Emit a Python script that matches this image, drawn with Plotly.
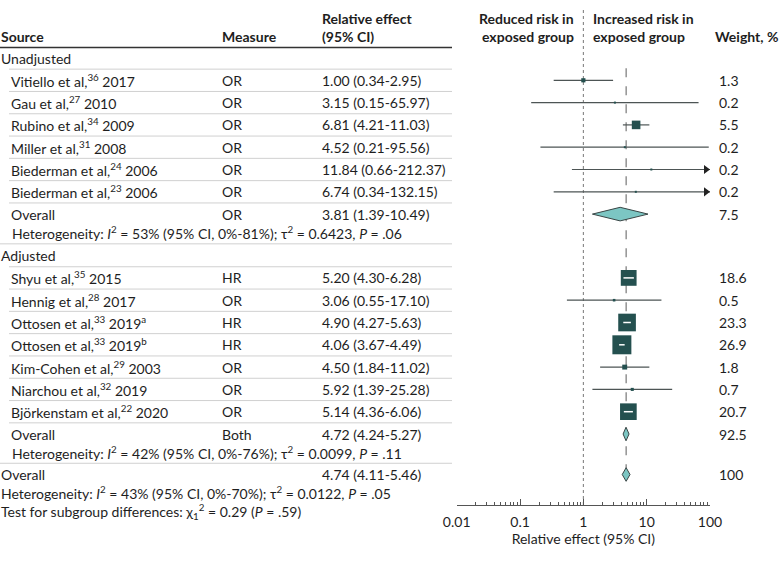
import math
import plotly.graph_objects as go

# ---- data -------------------------------------------------------------
unadj_authors = ["Vitiello et al", "Gau et al", "Rubino et al", "Miller et al",
                 "Biederman et al", "Biederman et al"]
unadj_refs = ["36", "27", "34", "31", "24", "23"]
unadj_years = ["2017", "2010", "2009", "2008", "2006", "2006"]
unadj_measure = ["OR", "OR", "OR", "OR", "OR", "OR"]
unadj_est = [1.00, 3.15, 6.81, 4.52, 11.84, 6.74]
unadj_lo = [0.34, 0.15, 4.21, 0.21, 0.66, 0.34]
unadj_hi = [2.95, 65.97, 11.03, 95.56, 212.37, 132.15]
unadj_weight = [1.3, 0.2, 5.5, 0.2, 0.2, 0.2]

adj_authors = ["Shyu et al", "Hennig et al", "Ottosen et al", "Ottosen et al",
               "Kim-Cohen et al", "Niarchou et al", "Björkenstam et al"]
adj_refs = ["35", "28", "33", "33", "29", "32", "22"]
adj_years = ["2015", "2017", "2019<sup>a</sup>", "2019<sup>b</sup>", "2003", "2019", "2020"]
adj_measure = ["HR", "OR", "HR", "HR", "OR", "OR", "OR"]
adj_est = [5.20, 3.06, 4.90, 4.06, 4.50, 5.92, 5.14]
adj_lo = [4.30, 0.55, 4.27, 3.67, 1.84, 1.39, 4.36]
adj_hi = [6.28, 17.10, 5.63, 4.49, 11.02, 25.28, 6.06]
adj_weight = [18.6, 0.5, 23.3, 26.9, 1.8, 0.7, 20.7]

# pooled: measure, est, lo, hi, weight, I2, I2 lo, I2 hi, tau2, P
unadj_pool = ["OR", 3.81, 1.39, 10.49, 7.5, 53, 0, 81, "0.6423", ".06"]
adj_pool = ["Both", 4.72, 4.24, 5.27, 92.5, 42, 0, 76, "0.0099", ".11"]
total_pool = ["", 4.74, 4.11, 5.46, 100, 43, 0, 70, "0.0122", ".05"]
subgroup_chi2 = "0.29"
subgroup_p = ".59"

tick_vals = [0.01, 0.1, 1, 10, 100]
tick_text = ["0.01", "0.1", "1", "10", "100"]

# ---- layout helpers ---------------------------------------------------
W, H = 780, 562
X0, X1 = 456.7, 710.0           # pixel extent of the log axis
PX_DEC = (X1 - X0) / 4
ROW = 22.3
FONT = "Lato"
FS = 14
TXT = "#1e1e1e"
SQ = "#24504f"
DIA = "#7cc6c3"
CI = "#4d5555"

COL_SRC, COL_STUDY, COL_MEAS, COL_EFF, COL_W = 0, 10, 221, 321, 718


def px(x):
    return x / W


def fmt_eff(e, l, h):
    return f"{e:.2f} ({l:.2f}-{h:.2f})"


def het_text(p):
    return (f"Heterogeneity: <i>I</i><sup>2</sup> = {p[5]}% (95% CI, {p[6]}%-{p[7]}%); "
            f"τ<sup>2</sup> = {p[8]}, <i>P</i> = {p[9]}")


# row positions (in pixel units from the top)
y_unadj_head = 58
y_unadj = [y_unadj_head + ROW * (i + 1) for i in range(len(unadj_est))]
y_unadj_pool = y_unadj[-1] + ROW
y_unadj_het = y_unadj_pool + 18
y_adj_head = y_unadj_het + 23.5
y_adj = [y_adj_head + ROW * (i + 1) for i in range(len(adj_est))]
y_adj_pool = y_adj[-1] + ROW
y_adj_het = y_adj_pool + 18
y_total = y_adj_het + 22.5
y_total_het = y_total + 18
y_test = y_total_het + 18.5

fig = go.Figure()
ann = []
shapes = []


def text(x, y, s, size=FS, anchor="left", bold=False):
    if bold:
        s = f"<b>{s}</b>"
    ann.append(dict(x=px(x), y=y, xref="paper", yref="y", text=s, showarrow=False,
                    xanchor=anchor, yanchor="middle", borderpad=0,
                    font=dict(family=FONT, size=size, color=TXT)))


def hline(y, x_start, color="#d0d0d0", width=1):
    shapes.append(dict(type="line", xref="paper", yref="y", x0=px(x_start), x1=px(452),
                       y0=y, y1=y, line=dict(color=color, width=width)))


# header
text(COL_SRC, 36, "Source", bold=True)
text(COL_MEAS, 36, "Measure", bold=True)
text(COL_EFF, 18, "Relative effect", bold=True)
text(COL_EFF, 36, "(95% CI)", bold=True)
text(575, 18, "Reduced risk in", bold=True, anchor="right")
text(575, 36, "exposed group", bold=True, anchor="right")
text(592, 18, "Increased risk in", bold=True)
text(592, 36, "exposed group", bold=True)
text(779, 36, "Weight, %", bold=True, anchor="right")
hline(47.5, 0, color="#333333", width=1.5)

# reference lines
fig.add_trace(go.Scatter(x=[1, 1], y=[10, 505], mode="lines",
                         line=dict(color="#777777", width=1, dash="dot"),
                         hoverinfo="skip"))
fig.add_trace(go.Scatter(x=[total_pool[1], total_pool[1]], y=[y_unadj[0] - 12, y_total],
                         mode="lines", line=dict(color="#777777", width=1.2, dash="dash"),
                         hoverinfo="skip"))


def add_pool(pool, y_pool, y_het, x_lab, x_het):
    text(x_lab, y_pool, "Overall")
    if pool[0]:
        text(COL_MEAS, y_pool, pool[0])
    text(COL_EFF, y_pool, fmt_eff(pool[1], pool[2], pool[3]))
    text(COL_W, y_pool, f"{pool[4]:g}")
    text(x_het, y_het, het_text(pool))
    hh = 6.8
    fig.add_trace(go.Scatter(x=[pool[2], pool[1], pool[3], pool[1], pool[2]],
                             y=[y_pool, y_pool - hh, y_pool, y_pool + hh, y_pool],
                             mode="lines", fill="toself", fillcolor=DIA,
                             line=dict(color="#3a4545", width=1), hoverinfo="skip"))


def add_group(head, y_head, authors, refs, years, meas, est, lo, hi, wts, ys,
              pool, y_pool, y_het, y_next):
    text(COL_SRC, y_head, head)
    hline((y_head + ys[0]) / 2, 9)
    for i in range(len(est)):
        text(COL_STUDY, ys[i], f"{authors[i]},<sup>{refs[i]}</sup> {years[i]}")
        text(COL_MEAS, ys[i], meas[i])
        text(COL_EFF, ys[i], fmt_eff(est[i], lo[i], hi[i]))
        text(COL_W, ys[i], f"{wts[i]:g}")
        nxt = ys[i + 1] if i + 1 < len(ys) else y_pool
        hline((ys[i] + nxt) / 2, 9)

    # CI lines (clipped to the axis, arrow when beyond)
    cx, cy, ax, ay = [], [], [], []
    for i in range(len(est)):
        cx += [max(lo[i], 0.01), min(hi[i], 100), None]
        cy += [ys[i], ys[i], None]
        if hi[i] > 100:
            ax.append(10 ** (2 - 4 / PX_DEC))
            ay.append(ys[i])
    fig.add_trace(go.Scatter(x=cx, y=cy, mode="lines", line=dict(color=CI, width=1.2),
                             hoverinfo="skip"))
    if ax:
        fig.add_trace(go.Scatter(x=ax, y=ay, mode="markers",
                                 marker=dict(symbol="triangle-right", size=8, color="#222222"),
                                 hoverinfo="skip"))
    sizes = [max(3.66 * math.sqrt(w), 2) for w in wts]
    fig.add_trace(go.Scatter(x=est, y=ys, mode="markers",
                             marker=dict(symbol="square", size=sizes, color=SQ, opacity=1,
                                         line=dict(width=0)),
                             hoverinfo="skip"))
    # CI drawn white where it lies fully inside the box
    wx, wy = [], []
    for i in range(len(est)):
        half = sizes[i] / 2 / PX_DEC
        if math.log10(lo[i]) > math.log10(est[i]) - half and math.log10(hi[i]) < math.log10(est[i]) + half:
            wx += [lo[i], hi[i], None]
            wy += [ys[i], ys[i], None]
    if wx:
        fig.add_trace(go.Scatter(x=wx, y=wy, mode="lines", line=dict(color="white", width=1.5),
                                 hoverinfo="skip"))

    add_pool(pool, y_pool, y_het, COL_STUDY, COL_STUDY + 1)
    hline((y_het + y_next) / 2, 0)


add_group("Unadjusted", y_unadj_head, unadj_authors, unadj_refs, unadj_years, unadj_measure,
          unadj_est, unadj_lo, unadj_hi, unadj_weight, y_unadj, unadj_pool, y_unadj_pool,
          y_unadj_het, y_adj_head)
add_group("Adjusted", y_adj_head, adj_authors, adj_refs, adj_years, adj_measure,
          adj_est, adj_lo, adj_hi, adj_weight, y_adj, adj_pool, y_adj_pool, y_adj_het, y_total)
add_pool(total_pool, y_total, y_total_het, COL_SRC, COL_SRC)
text(COL_SRC, y_test, f"Test for subgroup differences: χ<sub>1</sub><sup>2</sup> = {subgroup_chi2} "
                      f"(<i>P</i> = {subgroup_p})")

minor_vals = [m * 10 ** d for d in range(-2, 2) for m in range(2, 10)]

fig.update_layout(
    width=W, height=H,
    margin=dict(l=0, r=0, t=0, b=0, pad=0, autoexpand=False),
    paper_bgcolor="white", plot_bgcolor="white",
    showlegend=False,
    annotations=ann, shapes=shapes,
    font=dict(family=FONT, size=FS, color=TXT),
    xaxis=dict(type="log", range=[-2, 2], domain=[X0 / W, X1 / W],
               anchor="free", position=(H - 505) / H, automargin=False,
               showline=True, linecolor="#555555", linewidth=1,
               showgrid=False, zeroline=False,
               tickvals=tick_vals, ticktext=tick_text,
               ticks="inside", ticklen=6, tickcolor="#555555",
               ticklabelstandoff=4,
               minor=dict(tickvals=minor_vals, ticks="inside", ticklen=3,
                          tickcolor="#555555", showgrid=False),
               tickfont=dict(family=FONT, size=FS, color=TXT),
               title=dict(text="Relative effect (95% CI)", standoff=0,
                          font=dict(family=FONT, size=FS, color=TXT))),
    yaxis=dict(range=[H, 0], domain=[0, 1], visible=False, showgrid=False, automargin=False),
)

fig.write_html("out.html", config={"displayModeBar": False},
               post_script="document.body.style.margin='0';")
